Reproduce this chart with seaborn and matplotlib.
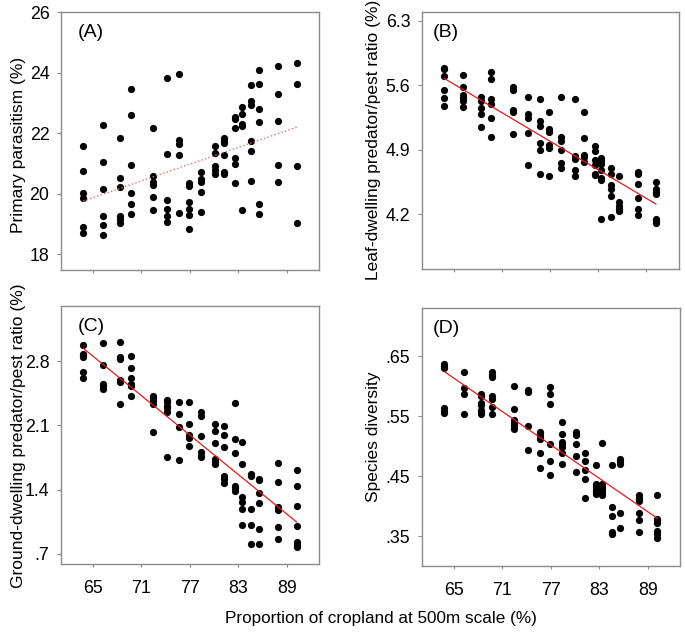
import numpy as np
import pandas as pd
import seaborn as sns
import matplotlib.pyplot as plt


# cropland proportion (%) of the 17 sites, shared by all four panels
cropland = [63.8, 66.2, 68.4, 69.7, 72.4, 74.2, 75.7, 76.9, 78.4,
            80.1, 81.2, 82.6, 83.4, 84.6, 85.6, 87.9, 90.2]

# (A) primary parasitism (%), one list per site
parasitism = [
    [21.57, 20.75, 20.03, 19.85, 18.91, 18.69],
    [22.27, 21.06, 20.17, 19.28, 18.98, 18.64],
    [21.83, 20.53, 20.23, 19.25, 19.18, 19.02],
    [23.46, 22.61, 20.94, 20.01, 19.65, 19.34],
    [22.18, 20.60, 20.39, 20.30, 19.91, 19.48],
    [23.84, 21.31, 19.80, 19.49, 19.25, 19.07],
    [23.96, 21.77, 21.63, 21.29, 19.35],
    [20.34, 20.26, 19.72, 19.49, 19.31, 18.84],
    [20.72, 20.48, 20.39, 20.05, 19.40],
    [21.58, 21.34, 20.91, 20.78, 20.66],
    [21.86, 21.76, 21.67, 21.29, 20.73, 20.66],
    [22.55, 22.47, 22.16, 21.19, 21.00, 20.37],
    [22.86, 22.65, 22.31, 22.24, 19.45],
    [23.61, 23.06, 22.95, 21.73, 21.42, 20.41],
    [24.09, 23.62, 22.80, 22.37, 19.66, 19.32],
    [24.24, 23.31, 22.40, 20.95, 20.39],
    [24.34, 23.62, 20.91, 19.05],
]

# (B) leaf-dwelling predator/pest ratio
leaf_ratio = [
    [5.79, 5.77, 5.70, 5.55, 5.46, 5.37],
    [5.71, 5.58, 5.49, 5.46, 5.43, 5.36],
    [5.47, 5.43, 5.35, 5.29, 5.15],
    [5.74, 5.67, 5.45, 5.39, 5.24, 5.04],
    [5.58, 5.55, 5.33, 5.31, 5.07],
    [5.47, 5.29, 5.24, 5.08, 4.73],
    [5.45, 5.21, 5.16, 4.97, 4.90, 4.64],
    [5.31, 5.12, 5.09, 4.95, 4.92, 4.61],
    [5.47, 5.04, 4.99, 4.89, 4.75, 4.70],
    [5.45, 4.83, 4.80, 4.68, 4.61],
    [5.31, 5.03, 4.84, 4.82, 4.77],
    [4.94, 4.88, 4.79, 4.73, 4.64, 4.62],
    [4.81, 4.78, 4.74, 4.68, 4.59, 4.57, 4.15],
    [4.70, 4.63, 4.51, 4.47, 4.40, 4.17],
    [4.61, 4.33, 4.29, 4.26, 4.23],
    [4.66, 4.64, 4.53, 4.37, 4.26, 4.19],
    [4.55, 4.47, 4.44, 4.42, 4.15, 4.13, 4.10],
]

# (C) ground-dwelling predator/pest ratio
ground_ratio = [
    [2.98, 2.88, 2.87, 2.84, 2.68, 2.62],
    [3.00, 2.76, 2.55, 2.53, 2.50],
    [3.01, 2.84, 2.82, 2.59, 2.57, 2.33],
    [2.85, 2.72, 2.62, 2.55, 2.53, 2.42],
    [2.42, 2.40, 2.37, 2.33, 2.03],
    [2.38, 2.35, 2.31, 2.29, 2.25, 1.76],
    [2.35, 2.22, 2.08, 1.72],
    [2.35, 2.12, 1.99, 1.96, 1.88],
    [2.25, 2.20, 1.98, 1.81, 1.77, 1.75],
    [2.12, 2.04, 1.91, 1.73, 1.70, 1.68],
    [2.09, 1.99, 1.86, 1.55, 1.52, 1.47],
    [2.34, 1.95, 1.80, 1.44, 1.42, 1.39],
    [1.92, 1.68, 1.32, 1.26, 1.19, 1.01],
    [1.57, 1.55, 1.19, 1.01, 0.81],
    [1.52, 1.50, 1.36, 1.25, 0.97, 0.81],
    [1.69, 1.48, 1.21, 1.18, 0.99, 0.86],
    [1.61, 1.44, 1.22, 1.00, 0.83, 0.80, 0.78],
]

# (D) species diversity
diversity = [
    [0.637, 0.633, 0.630, 0.563, 0.559, 0.556],
    [0.623, 0.597, 0.587, 0.554],
    [0.587, 0.584, 0.572, 0.569, 0.561, 0.557, 0.553],
    [0.623, 0.619, 0.616, 0.583, 0.579, 0.566, 0.554],
    [0.601, 0.562, 0.544, 0.538, 0.533, 0.529],
    [0.594, 0.590, 0.533, 0.493],
    [0.524, 0.519, 0.516, 0.512, 0.489, 0.464],
    [0.598, 0.587, 0.571, 0.503, 0.475, 0.452],
    [0.540, 0.521, 0.507, 0.503, 0.498, 0.489, 0.471],
    [0.524, 0.521, 0.518, 0.504, 0.484, 0.457],
    [0.488, 0.476, 0.460, 0.445, 0.414],
    [0.469, 0.436, 0.431, 0.427, 0.423, 0.420],
    [0.506, 0.437, 0.432, 0.428, 0.423, 0.419],
    [0.468, 0.398, 0.384, 0.357, 0.354],
    [0.479, 0.475, 0.470, 0.388, 0.364],
    [0.418, 0.414, 0.411, 0.408, 0.389, 0.376, 0.356],
    [0.419, 0.379, 0.376, 0.372, 0.359, 0.354, 0.347],
]

x_ticks = [65, 71, 77, 83, 89]


def to_frame(columns):
    rows = [(x, y) for x, ys in zip(cropland, columns) for y in ys]
    return pd.DataFrame(rows, columns=['cropland', 'value'])


sns.set_style('white')
plt.rcParams['font.family'] = ['Liberation Sans', 'DejaVu Sans']
plt.rcParams['text.color'] = 'black'
plt.rcParams['axes.labelcolor'] = 'black'
plt.rcParams['xtick.labelcolor'] = 'black'
plt.rcParams['ytick.labelcolor'] = 'black'

fig = plt.figure(figsize=(6.85, 6.33), dpi=100)
W, H = 685.0, 633.0


def add_axes(left, top, right, bottom):
    return fig.add_axes([left / W, 1 - bottom / H, (right - left) / W, (bottom - top) / H])


panels = [
    # data, box in pixels, ylim, yticks, tick format, letter, ylabel, label centre, line style
    (parasitism, (60.5, 12.3, 319.3, 270.0), (17.48, 26.0), [18, 20, 22, 24, 26],
     lambda v: '%d' % v, '(A)', 'Primary parasitism (%)', (18.3, 145), ':'),
    (leaf_ratio, (421.5, 12.3, 678.5, 269.3), (3.60, 6.39), [4.2, 4.9, 5.6, 6.3],
     lambda v: '%.1f' % v, '(B)', 'Leaf-dwelling predator/pest ratio (%)', (373.3, 140), '-'),
    (ground_ratio, (60.5, 306.0, 319.3, 564.0), (0.59, 3.40), [0.7, 1.4, 2.1, 2.8],
     lambda v: ('%.1f' % v).lstrip('0'), '(C)', 'Ground-dwelling predator/pest ratio (%)', (18.3, 436), '-'),
    (diversity, (421.5, 308.3, 680.0, 566.0), (0.30, 0.73), [0.35, 0.45, 0.55, 0.65],
     lambda v: ('%.2f' % v).lstrip('0'), '(D)', 'Species diversity', (373.3, 437), '-'),
]

for i, (values, box, ylim, yticks, fmt, letter, ylabel, lab_xy, ls) in enumerate(panels):
    ax = add_axes(*box)
    df = to_frame(values)
    line_color = '#e8706f' if ls == ':' else '#e41a1c'
    sns.regplot(data=df, x='cropland', y='value', ax=ax, ci=None,
                scatter_kws={'s': 27, 'color': 'black', 'linewidths': 0, 'alpha': 1},
                line_kws={'color': line_color, 'lw': 1.0 if ls == ':' else 0.9, 'ls': ls})

    ax.set_xlim(61.0, 93.0)
    ax.set_ylim(*ylim)
    ax.set_xticks(x_ticks)
    ax.set_yticks(yticks)
    ax.set_yticklabels([fmt(v) for v in yticks])
    if i < 2:
        ax.set_xticklabels([])
    else:
        ax.set_xticklabels([str(v) for v in x_ticks])
    ax.set_xlabel('')
    ax.set_ylabel('')

    for side in ax.spines.values():
        side.set_visible(True)
        side.set_color('#8c8c8c')
        side.set_linewidth(1.0)
    ax.tick_params(axis='y', direction='out', length=3, width=0.8, color='#8c8c8c',
                   labelsize=12.8, pad=5, left=True)
    ax.tick_params(axis='x', direction='out', length=2.5, width=0.8, color='#8c8c8c',
                   labelsize=12.8, pad=9, bottom=True)

    ax.text(0.065 if i % 2 == 0 else 0.045, 0.955, letter, transform=ax.transAxes,
            fontsize=14, ha='left', va='top')
    fig.text(lab_xy[0] / W, 1 - lab_xy[1] / H, ylabel, rotation=90,
             ha='center', va='center', fontsize=12.5)

fig.text(381 / W, 1 - 619 / H, 'Proportion of cropland at 500m scale (%)',
         ha='center', va='center', fontsize=12.3)

fig.savefig('out.png', dpi=100)
